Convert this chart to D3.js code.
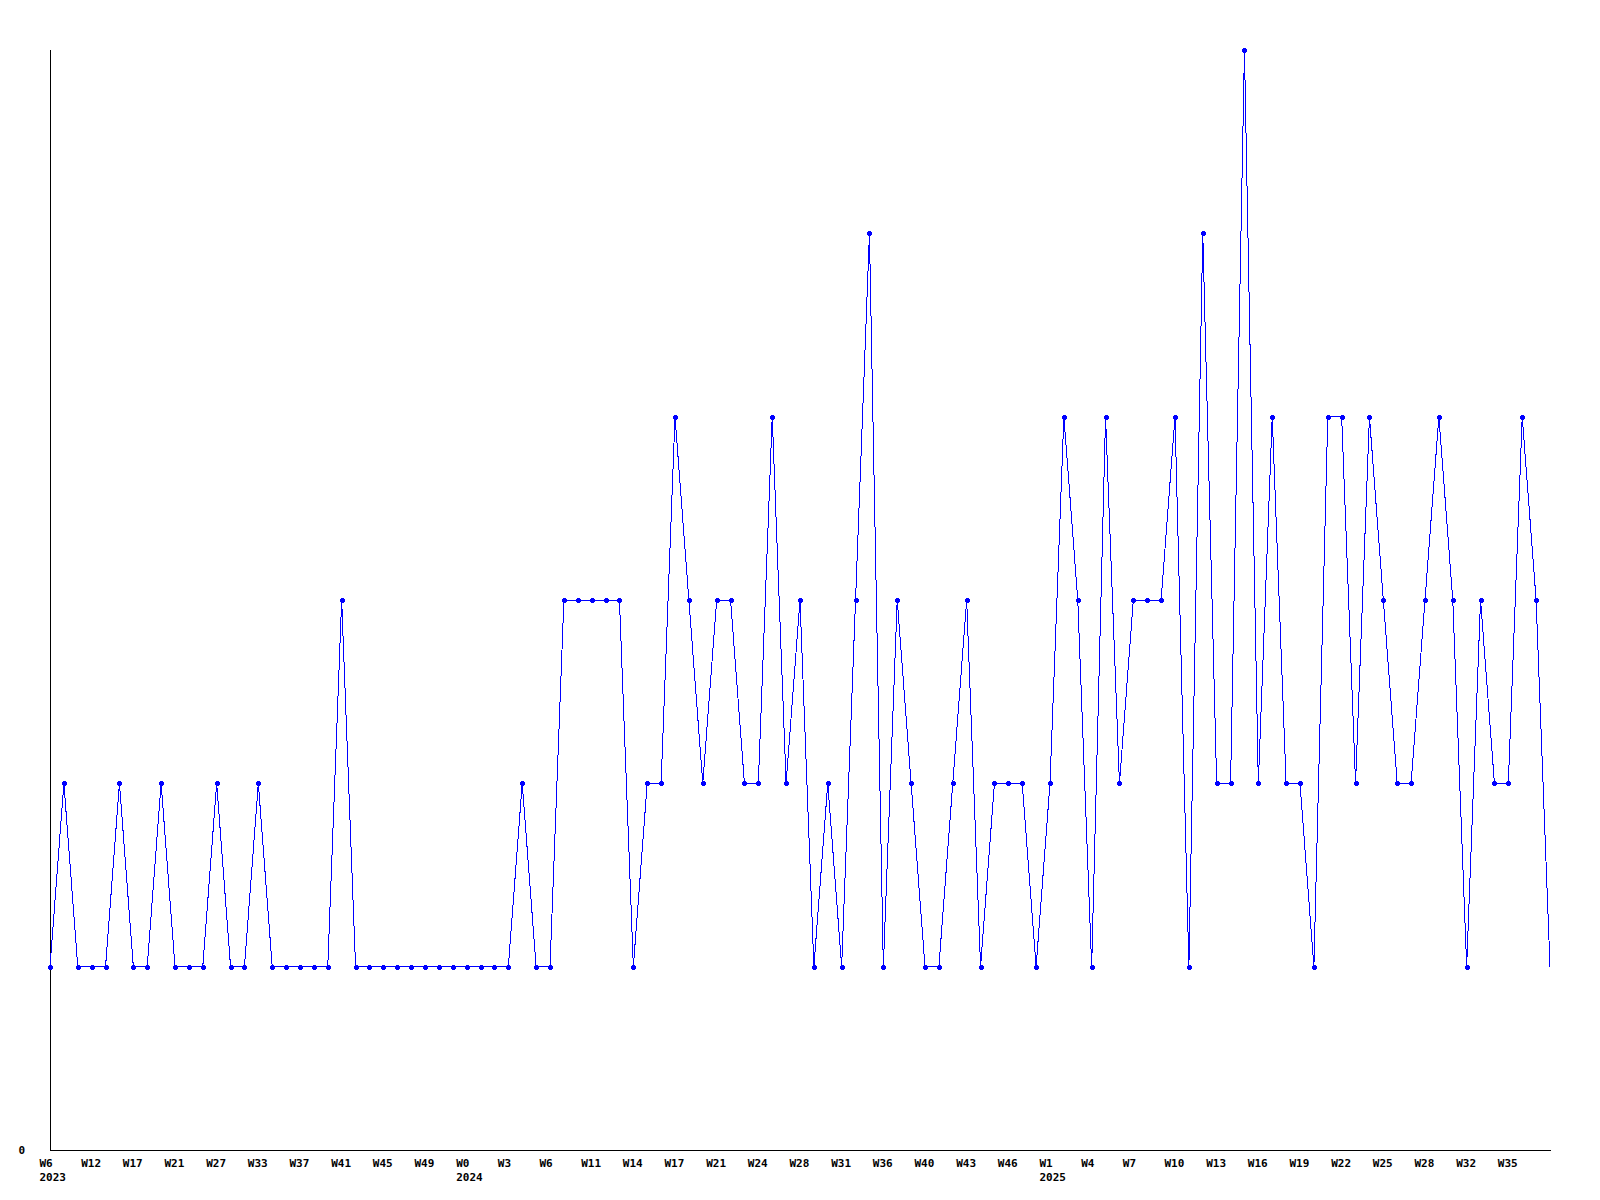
<!DOCTYPE html>
<meta charset="utf-8">
<style>
body { margin: 0; background: #fff; }
text { font-family: "DejaVu Sans Mono", monospace; font-weight: bold; font-size: 11px; fill: #000; }
.axis line { stroke: #000; stroke-width: 1px; shape-rendering: crispEdges; }
</style>
<body>
<svg width="1600" height="1200"></svg>
<script src="https://d3js.org/d3.v7.min.js"></script>
<script>

// weekly counts, one per point
var values = [1,2,1,1,1,2,1,1,2,1,
              1,1,2,1,1,2,1,1,1,1,
              1,3,1,1,1,1,1,1,1,1,
              1,1,1,1,2,1,1,3,3,3,
              3,3,1,2,2,4,3,2,3,3,
              2,2,4,2,3,1,2,1,3,5,
              1,3,2,1,1,2,3,1,2,2,
              2,1,2,4,3,1,4,2,3,3,
              3,4,1,5,2,2,6,2,4,2,
              2,1,4,4,2,4,3,2,2,3,
              4,3,1,3,2,2,4,3,1];

// a label every third point
var tickLabels = ["W6","W12","W17","W21","W27","W33","W37","W41","W45","W49",
                  "W0","W3","W6","W11","W14","W17","W21","W24","W28","W31",
                  "W36","W40","W43","W46","W1","W4","W7","W10","W13","W16",
                  "W19","W22","W25","W28","W32","W35"];
var labelStep = 3;

// year shown under the first label of each year
var years = [{index: 0, label: "2023"}, {index: 30, label: "2024"}, {index: 72, label: "2025"}];

var svg = d3.select("svg");

var x = d3.scaleLinear()
    .domain([0, values.length - 1])
    .range([50, 1550]);

var y = d3.scaleLinear()
    .domain([0, 6])
    .range([1150, 50]);

// axes
var axis = svg.append("g").attr("class", "axis");
axis.append("line")
    .attr("x1", x(0)).attr("x2", x(0))
    .attr("y1", y(0)).attr("y2", y(6));
axis.append("line")
    .attr("x1", x(0)).attr("x2", x(values.length - 1) + 1)
    .attr("y1", y(0)).attr("y2", y(0));

svg.append("text")
    .attr("x", 25)
    .attr("y", y(0) + 4)
    .attr("text-anchor", "end")
    .text("0");

svg.append("g").selectAll("text")
    .data(tickLabels)
    .enter().append("text")
      .attr("x", function(d, i) { return x(i * labelStep) - 10.5; })
      .attr("y", y(0) + 16.5)
      .text(function(d) { return d; });

svg.append("g").selectAll("text")
    .data(years)
    .enter().append("text")
      .attr("x", function(d) { return x(d.index) - 10.5; })
      .attr("y", y(0) + 31)
      .text(function(d) { return d.label; });

// line
var line = d3.line()
    .x(function(d, i) { return x(i); })
    .y(function(d) { return y(d); });

svg.append("path")
    .datum(values)
    .attr("fill", "none")
    .attr("stroke", "#0000ff")
    .attr("stroke-width", 1)
    .attr("shape-rendering", "crispEdges")
    .attr("d", line);

// markers (the last point has none)
var marker = "M-2.5,-1.5h1v-1h3v1h1v3h-1v1h-3v-1h-1z";
svg.append("g").selectAll("path")
    .data(values.slice(0, values.length - 1))
    .enter().append("path")
      .attr("d", marker)
      .attr("fill", "#0000ff")
      .attr("transform", function(d, i) {
        return "translate(" + (Math.round(x(i)) + 0.5) + "," + (Math.round(y(d)) + 0.5) + ")";
      });

</script>
</body>
